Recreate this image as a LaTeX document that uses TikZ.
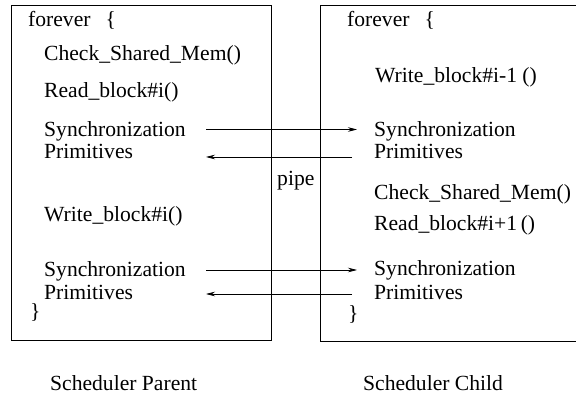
\documentclass[tikz,border=0pt]{standalone}
\usepackage{fontspec}
\setmainfont{Liberation Serif}
\usetikzlibrary{arrows.meta}

\begin{document}
\begin{tikzpicture}[x=1pt,y=-1pt,
  procbox/.style={rectangle,draw,line width=0.9pt,anchor=north west,inner sep=0pt},
  codeline/.style={anchor=base west,inner sep=0pt,font=\fontsize{21.6}{23}\selectfont},
  pipearrow/.style={-{Stealth[length=9pt,width=4.5pt]},line width=0.7pt}]
\useasboundingbox (0,0) rectangle (576,398);
\clip (0,0) rectangle (576,398);

% Scheduler boxes
\node[procbox,minimum width=259.7pt,minimum height=335pt] (parent) at (11,5) {};
\node[procbox,minimum width=280pt,minimum height=336pt] (child) at (319.5,5) {};

% Parent code
\node[codeline] (pforever) at (28,26.5) {forever\hspace{15pt}\{};
\node[codeline] (pcheck) at (44,61) {Check\_Shared\_Mem()};
\node[codeline] (pread) at (44,98) {Read\_block\#i()};
\node[codeline] (psyncA) at (44,137) {Synchronization};
\node[codeline] (pprimA) at (44,159) {Primitives};
\node[codeline] (pwrite) at (44,222) {Write\_block\#i()};
\node[codeline] (psyncB) at (44,277) {Synchronization};
\node[codeline] (pprimB) at (44,300) {Primitives};
\node[codeline] (pend) at (30,319) {\}};

% Child code
\node[codeline] (cforever) at (347,26.5) {forever\hspace{15pt}\{};
\node[codeline] (cwrite) at (375,83) {Write\_block\#i-1 ()};
\node[codeline] (csyncA) at (374,137) {Synchronization};
\node[codeline] (cprimA) at (374,159) {Primitives};
\node[codeline] (ccheck) at (374,200) {Check\_Shared\_Mem()};
\node[codeline] (cread) at (374,231) {Read\_block\#i+1\,()};
\node[codeline] (csyncB) at (374,276) {Synchronization};
\node[codeline] (cprimB) at (374,300) {Primitives};
\node[codeline] (cend) at (348,320) {\}};

% Labels
\node[codeline] (pipe) at (277,186) {pipe};
\node[codeline] (parentlbl) at (50,390) {Scheduler Parent};
\node[codeline] (childlbl) at (363,390) {Scheduler Child};

% Pipe ends
\coordinate (sendA) at (206,129.5);
\coordinate (recvA) at (357,129.5);
\coordinate (sendB) at (352,157);
\coordinate (recvB) at (206,157);
\coordinate (sendC) at (206,270);
\coordinate (recvC) at (357,270);
\coordinate (sendD) at (352,294);
\coordinate (recvD) at (206,294);

% Arrows
\draw[pipearrow] (sendA) -- (recvA);
\draw[pipearrow] (sendB) -- (recvB);
\draw[pipearrow] (sendC) -- (recvC);
\draw[pipearrow] (sendD) -- (recvD);

\end{tikzpicture}
\end{document}
